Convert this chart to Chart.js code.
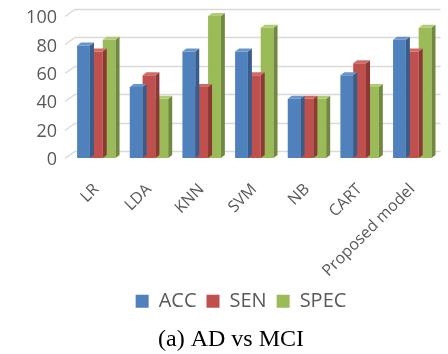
<!DOCTYPE html>
<html>
<head>
<meta charset="utf-8">
<script src="https://cdn.jsdelivr.net/npm/chart.js@4/dist/chart.umd.min.js"></script>
<style>
  html, body { margin: 0; padding: 0; background: #fff; }
  #wrap { width: 448px; height: 354px; }
</style>
</head>
<body>
<div id="wrap"><canvas id="chart"></canvas></div>
<script>
const categories = ["LR", "LDA", "KNN", "SVM", "NB", "CART", "Proposed model"];
const accValues = [79.2, 50, 75, 75, 41.7, 58.3, 83.3];
const senValues = [75, 58.3, 50, 58.3, 41.7, 66.7, 75];
const specValues = [83.3, 41.7, 100, 91.7, 41.7, 50, 91.7];
const yTicks = [0, 20, 40, 60, 80, 100];

const DX = 4, DY = 3; // bar depth
const WALL_DX = 10, WALL_DY = 7; // back wall offset

const shade = {
  "#4f81bd": { side: "#385d8a", top: "#6a95cc" },
  "#c0504d": { side: "#8c3836", top: "#d06a67" },
  "#9bbb59": { side: "#71893f", top: "#b0cc75" },
};

// fake 3d look: back wall grid + side/top faces of each bar
const bars3d = {
  id: "bars3d",
  afterLayout(chart) {
    // legend and caption sit a bit right of centre in the original
    chart.legend.left += 18;
    chart.legend.right += 18;
    chart.titleBlock.left += 8;
    chart.titleBlock.right += 8;
  },
  beforeDatasetsDraw(chart) {
    const { ctx, chartArea } = chart;
    const y = chart.scales.y;
    ctx.save();
    ctx.strokeStyle = "#d9d9d9";
    ctx.lineWidth = 1.3;
    yTicks.forEach((v) => {
      const py = Math.round(y.getPixelForValue(v)) + 0.5;
      ctx.beginPath();
      ctx.moveTo(chartArea.left - 5, py);
      ctx.lineTo(chartArea.left - 5 + WALL_DX, py - WALL_DY);
      ctx.lineTo(chartArea.right + 2, py - WALL_DY);
      ctx.stroke();
    });
    ctx.restore();
  },
  afterDatasetDraw(chart, args) {
    const { ctx } = chart;
    const color = chart.data.datasets[args.index].backgroundColor;
    ctx.save();
    args.meta.data.forEach((bar) => {
      const { x, y, base, width } = bar.getProps(["x", "y", "base", "width"], true);
      const l = x - width / 2, r = x + width / 2;
      ctx.fillStyle = shade[color].side;
      ctx.beginPath();
      ctx.moveTo(r, y);
      ctx.lineTo(r + DX, y - DY);
      ctx.lineTo(r + DX, base - DY);
      ctx.lineTo(r, base);
      ctx.closePath();
      ctx.fill();
      ctx.fillStyle = shade[color].top;
      ctx.beginPath();
      ctx.moveTo(l, y);
      ctx.lineTo(l + DX, y - DY);
      ctx.lineTo(r + DX, y - DY);
      ctx.lineTo(r, y);
      ctx.closePath();
      ctx.fill();
    });
    ctx.restore();
  },
};

new Chart(document.getElementById("chart"), {
  type: "bar",
  data: {
    labels: categories,
    datasets: [
      { label: "ACC", data: accValues, backgroundColor: "#4f81bd" },
      { label: "SEN", data: senValues, backgroundColor: "#c0504d" },
      { label: "SPEC", data: specValues, backgroundColor: "#9bbb59" },
    ],
  },
  options: {
    responsive: true,
    maintainAspectRatio: false,
    animation: false,
    layout: { padding: { top: 16, right: 2, left: 0, bottom: 0 } },
    datasets: { bar: { categoryPercentage: 0.73, barPercentage: 1.0 } },
    scales: {
      x: {
        grid: { display: false, drawTicks: false },
        border: { display: false },
        ticks: {
          color: "#595959",
          font: { family: "'Open Sans'", size: 16 },
          minRotation: 45,
          maxRotation: 45,
          padding: 22,
        },
        afterFit(scale) { scale.height = 123.2; },
      },
      y: {
        min: 0,
        max: 100,
        grid: { display: false, drawTicks: false },
        border: { display: false },
        afterBuildTicks(scale) { scale.ticks = yTicks.map((v) => ({ value: v })); },
        ticks: {
          color: "#595959",
          font: { family: "'Open Sans'", size: 18 },
          padding: 13,
          labelOffset: 2,
        },
        afterFit(scale) {
          scale.width = 70;
          scale.paddingTop = 0;
          scale.paddingBottom = 0;
        },
      },
    },
    plugins: {
      legend: {
        position: "bottom",
        labels: {
          color: "#595959",
          font: { family: "'Open Sans'", size: 20 },
          boxWidth: 13,
          boxHeight: 13,
          padding: 10,
        },
      },
      title: {
        display: true,
        position: "bottom",
        text: "(a) AD vs MCI",
        color: "#000",
        font: { family: "'Liberation Serif'", size: 24, weight: "normal" },
        padding: { top: 4, bottom: 0 },
      },
      tooltip: { enabled: false },
    },
  },
  plugins: [bars3d],
});
</script>
</body>
</html>
